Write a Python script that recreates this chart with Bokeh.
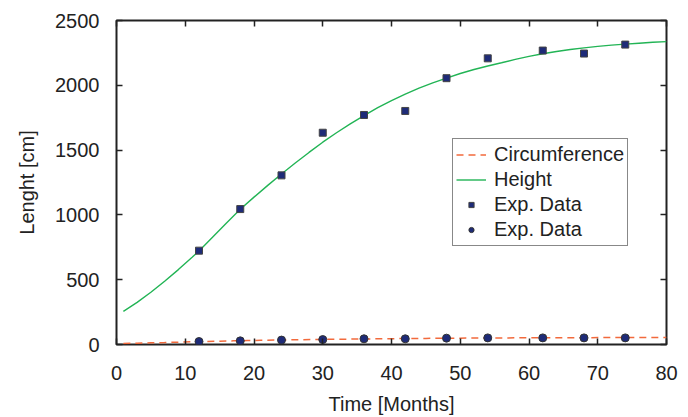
from bokeh.plotting import figure
from bokeh.models import Range1d, LinearAxis, Legend, LegendItem, FixedTicker
from bokeh.embed import file_html
from bokeh.resources import INLINE

# Model curves
height_t = [1, 3, 5, 7, 9, 11, 12, 14, 16, 18, 20, 22, 24, 26, 28, 30, 32, 34, 36, 38, 40,
            42, 44, 46, 48, 50, 52, 54, 56, 58, 60, 62, 64, 66, 68, 70, 72, 74, 76, 78, 80]
height_curve = [256, 325, 403, 488, 578, 673, 722, 829, 937, 1043, 1137, 1228, 1316, 1400,
                1482, 1561, 1634, 1703, 1766, 1827, 1882, 1932, 1978, 2019, 2056, 2091, 2122,
                2149, 2174, 2200, 2223, 2243, 2261, 2276, 2289, 2300, 2310, 2318, 2325, 2332, 2337]
circ_t = [1, 3, 5, 7, 9, 11, 13, 15, 17, 19, 21, 23, 25, 27, 29, 31, 33, 35, 37, 39, 41, 43,
          45, 47, 49, 51, 53, 55, 57, 59, 61, 63, 65, 67, 69, 71, 73, 75, 77, 79, 80]
circ_curve = [8, 10, 13, 15, 18, 21, 23, 26, 28, 30, 32, 34, 35.5, 37, 38.5, 40, 41, 42, 43,
              44.5, 45.5, 46, 47, 48, 48.5, 49.5, 50, 50.5, 51, 51.5, 52, 52, 52.5, 53, 53,
              53.5, 53.5, 53.5, 54, 54, 54]

# Experimental data
exp_t = [12, 18, 24, 30, 36, 42, 48, 54, 62, 68, 74]
exp_height = [724, 1045, 1305, 1634, 1771, 1802, 2055, 2208, 2268, 2245, 2314]
exp_circ = [23, 28, 34, 38, 44, 44, 49, 51, 51, 51, 51]

x_ticks = [0, 10, 20, 30, 40, 50, 60, 70, 80]
y_ticks = [0, 500, 1000, 1500, 2000, 2500]

FONT = "Liberation Sans"
INK = "#222222"

p = figure(width=680, height=417, output_backend="svg", toolbar_location=None, title=None,
           x_range=Range1d(0, 80), y_range=Range1d(0, 2500),
           min_border_left=116, min_border_top=20, min_border_right=14, min_border_bottom=70)
p.background_fill_color = "white"
p.border_fill_color = "white"
p.grid.visible = False
p.outline_line_color = INK
p.outline_line_width = 2

def style_axis(ax, labels=True):
    ax.axis_line_color = None
    ax.major_tick_in = 6
    ax.major_tick_out = 0
    ax.major_tick_line_color = INK
    ax.major_tick_line_width = 1.5
    ax.minor_tick_line_color = None
    ax.major_label_text_font = FONT
    if labels:
        ax.major_label_text_font_size = "20px"
        ax.major_label_text_color = INK
    else:
        ax.major_label_text_font_size = "0px"
        ax.major_label_text_color = None
        ax.major_label_standoff = 0

p.xaxis.ticker = FixedTicker(ticks=x_ticks)
p.yaxis.ticker = FixedTicker(ticks=y_ticks)
style_axis(p.xaxis[0])
style_axis(p.yaxis[0])
p.xaxis.major_label_standoff = 21
p.yaxis.major_label_standoff = 17
p.xaxis.axis_label = "Time [Months]"
p.yaxis.axis_label = "Lenght [cm]"
for ax in (p.xaxis[0], p.yaxis[0]):
    ax.axis_label_text_font = FONT
    ax.axis_label_text_font_size = "20px"
    ax.axis_label_text_font_style = "normal"
    ax.axis_label_text_color = INK
p.xaxis.axis_label_standoff = 10
p.yaxis.axis_label_standoff = 14

top = LinearAxis(ticker=FixedTicker(ticks=x_ticks))
right = LinearAxis(ticker=FixedTicker(ticks=y_ticks))
style_axis(top, labels=False)
style_axis(right, labels=False)
p.add_layout(top, "above")
p.add_layout(right, "right")

r_circ = p.line(circ_t, circ_curve, line_color="#f26a3c", line_width=1.5, line_dash="7 5")
r_height = p.line(height_t, height_curve, line_color="#22b455", line_width=1.4)
r_sq = p.scatter(exp_t, exp_height, marker="square", size=7, fill_color="#1e2b78",
                 line_color="#444444", line_width=1)
r_ci = p.scatter(exp_t, exp_circ, marker="circle", size=8, fill_color="#1e2b78",
                 line_color="#333333", line_width=1)

legend = Legend(items=[
    LegendItem(label="Circumference", renderers=[r_circ]),
    LegendItem(label="Height", renderers=[r_height]),
    LegendItem(label="Exp. Data", renderers=[r_sq]),
    LegendItem(label="Exp. Data", renderers=[r_ci]),
], location=(336, 98))
legend.border_line_color = "#111111"
legend.border_line_width = 1
legend.background_fill_color = "white"
legend.background_fill_alpha = 1
legend.padding = 3
legend.spacing = 0
legend.margin = 0
legend.label_standoff = 8
legend.glyph_width = 30
legend.glyph_height = 13
legend.label_height = 25
legend.label_text_font = FONT
legend.label_text_font_size = "20px"
legend.label_text_color = INK
p.add_layout(legend, "center")

open("out.html", "w").write(file_html(p, INLINE))
